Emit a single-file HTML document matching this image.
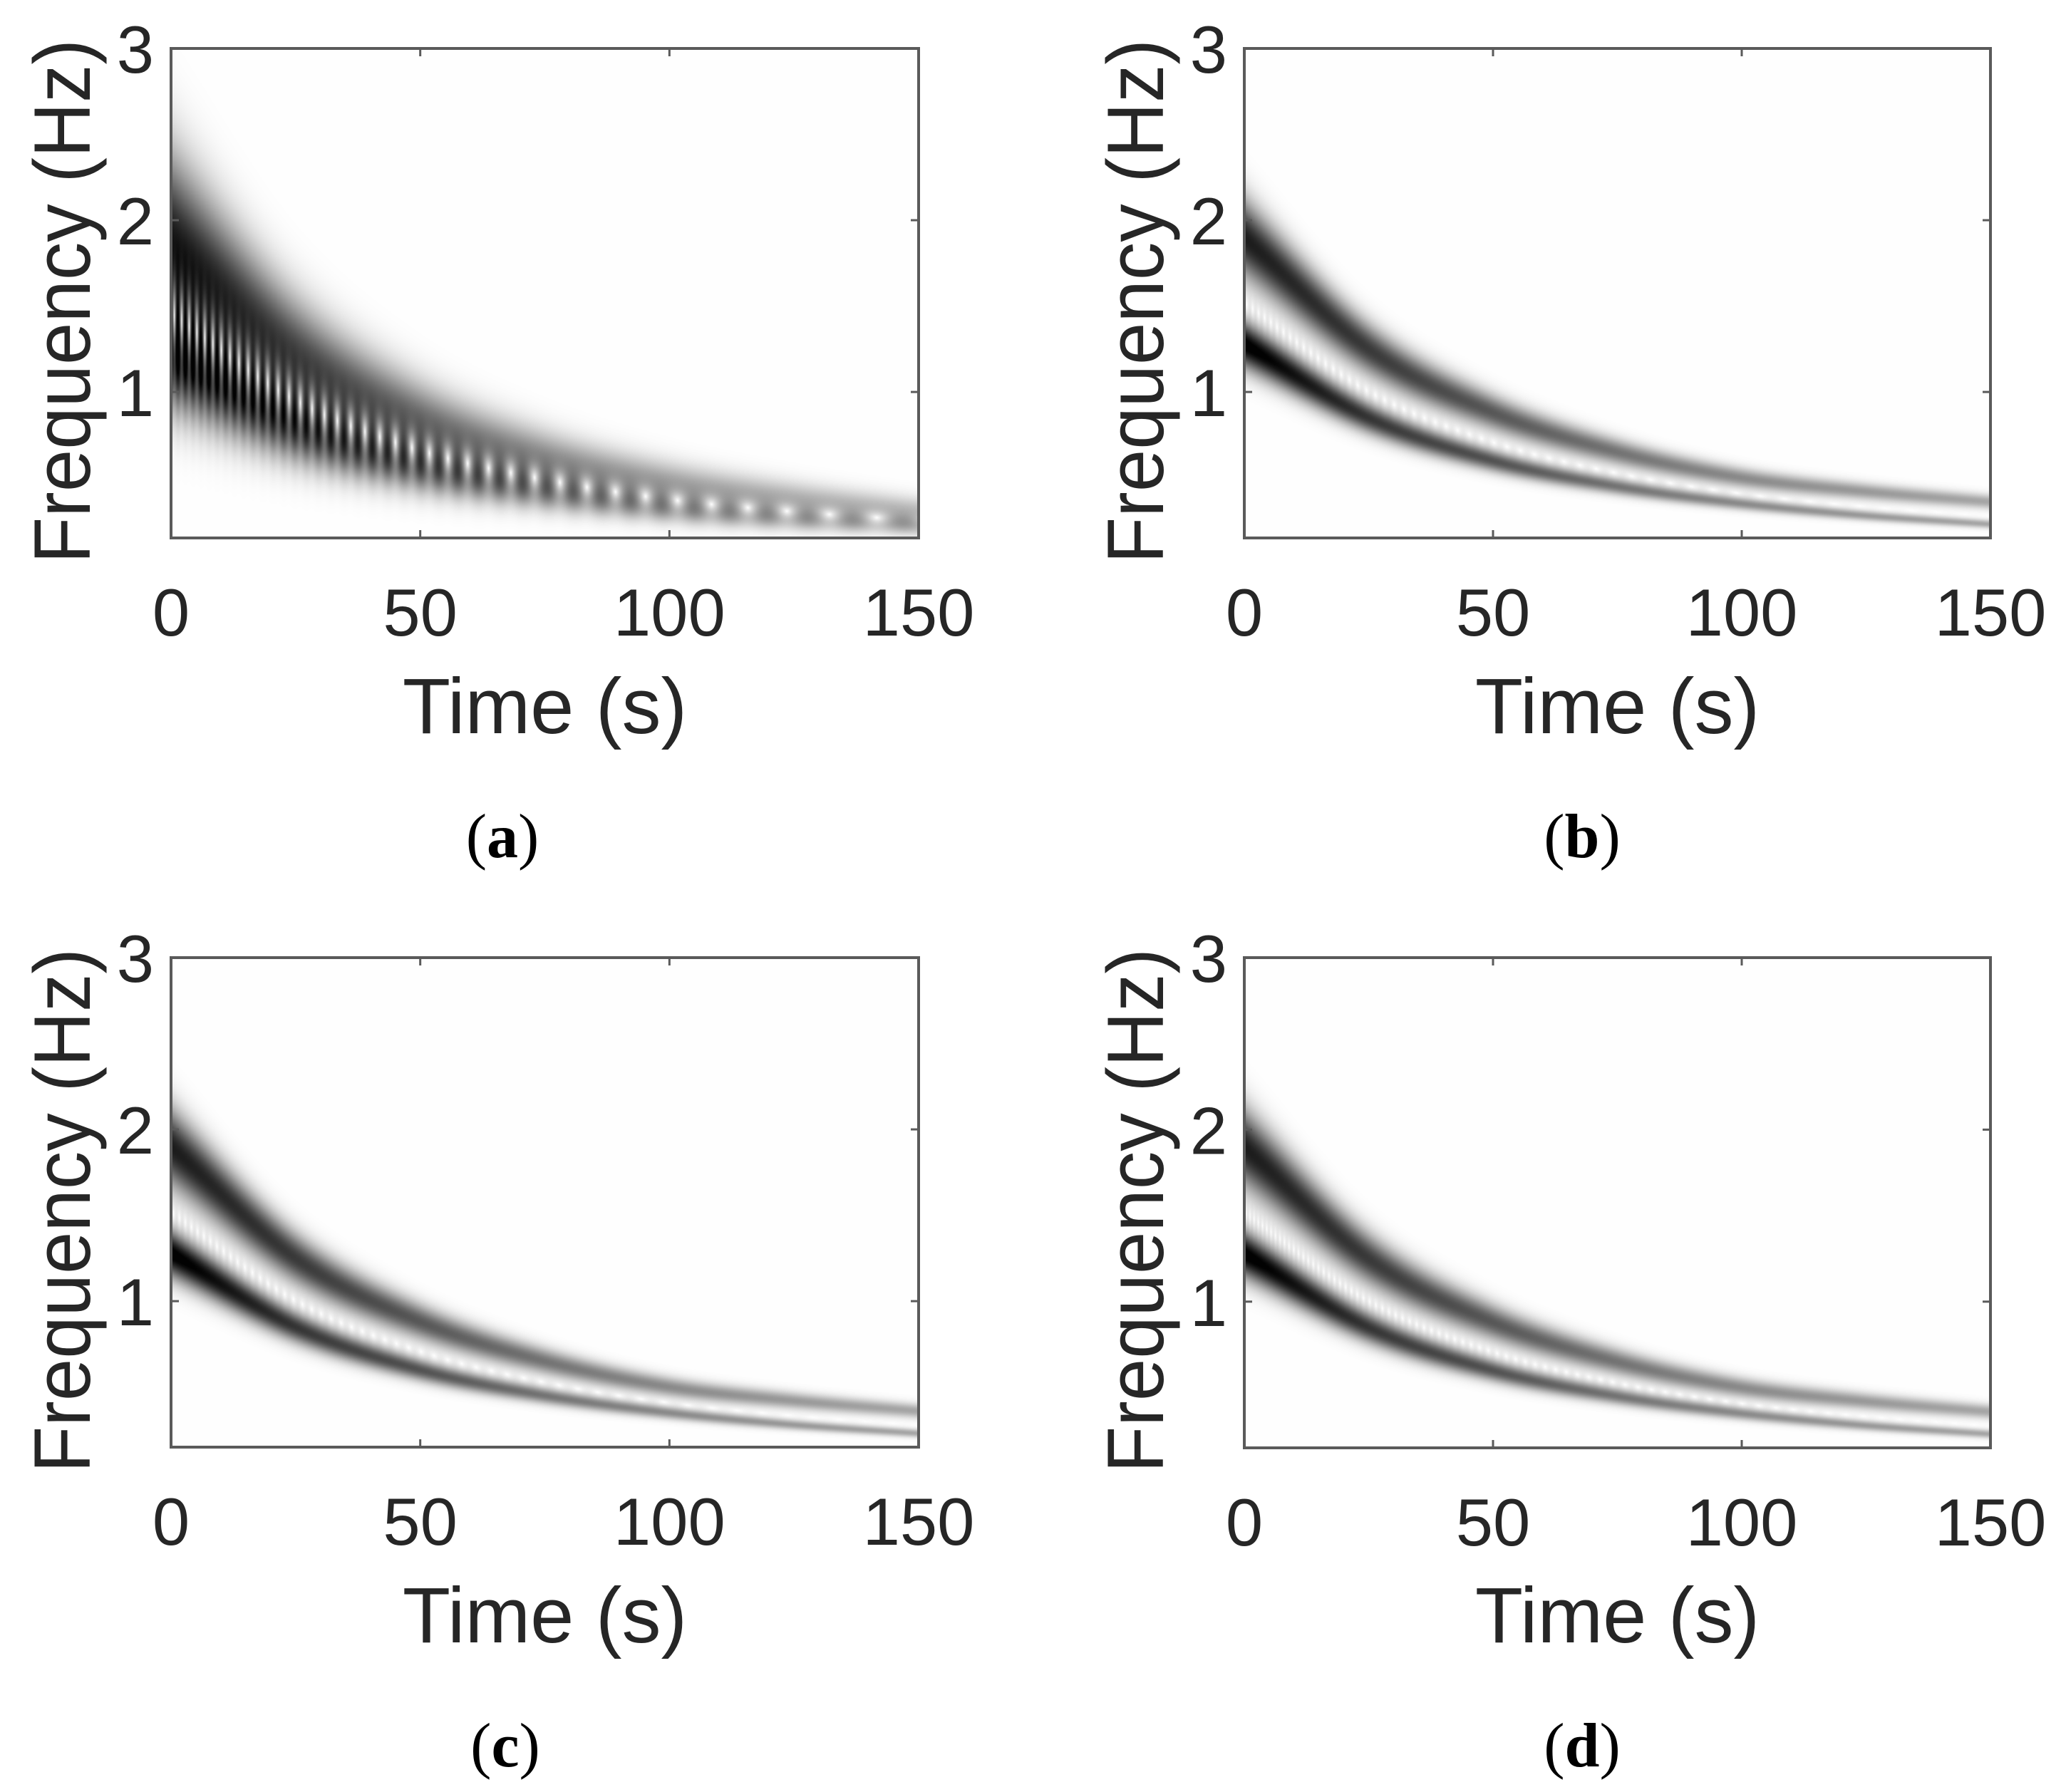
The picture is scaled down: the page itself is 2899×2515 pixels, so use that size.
<!DOCTYPE html>
<html><head><meta charset="utf-8">
<style>
html,body{margin:0;padding:0;background:#fff;}
#root{position:relative;width:2899px;height:2515px;overflow:hidden;background:#fff;}
canvas{position:absolute;}
svg{position:absolute;left:0;top:0;}
</style></head>
<body>
<div id="root">
<canvas id="ca" width="1049" height="687" style="left:240px;top:68px"></canvas>
<canvas id="cb" width="1047" height="687" style="left:1746px;top:68px"></canvas>
<canvas id="cc" width="1049" height="687" style="left:240px;top:1344px"></canvas>
<canvas id="cd" width="1047" height="688" style="left:1746px;top:1344px"></canvas>
<svg id="ov" width="2899" height="2515"></svg>
</div>
<script>
// ---- data ----
const times = [0, 25, 50, 75, 100, 125, 150];
const xTicks = [0, 50, 100, 150];
const yTicks = [1, 2, 3];
const captions = ["(a)", "(b)", "(c)", "(d)"];
const lowerA = [1.22, 0.8, 0.56, 0.42, 0.32, 0.26, 0.22];
const upperA = [1.85, 1.2, 0.82, 0.6, 0.46, 0.37, 0.3];
const ampA = [1.0, 0.82, 0.66, 0.52, 0.42, 0.35, 0.3];
const lowerB = [1.28, 0.85, 0.6, 0.45, 0.35, 0.28, 0.23];
const upperB = [1.9, 1.25, 0.88, 0.65, 0.5, 0.42, 0.36];
const ampLowB = [1.05, 0.8, 0.68, 0.55, 0.46, 0.4, 0.35];
const ampUpB = [0.9, 0.78, 0.66, 0.55, 0.46, 0.4, 0.35];
const fMin = 0.15, fMax = 3, tMin = 0, tMax = 150;

// monotone cubic interpolation through the data
function interp(arr, t){
  const n=times.length, d=[], m=[];
  for(let i=0;i<n-1;i++) d.push((arr[i+1]-arr[i])/(times[i+1]-times[i]));
  m.push(d[0]);
  for(let i=1;i<n-1;i++) m.push(d[i-1]*d[i]<=0?0:(d[i-1]+d[i])/2);
  m.push(d[n-2]);
  let i=0; while(i<n-2 && t>times[i+1]) i++;
  const h=times[i+1]-times[i], u=Math.min(1,Math.max(0,(t-times[i])/h));
  const h00=2*u*u*u-3*u*u+1, h10=u*u*u-2*u*u+u, h01=-2*u*u*u+3*u*u, h11=u*u*u-u*u;
  return h00*arr[i]+h10*h*m[i]+h01*arr[i+1]+h11*h*m[i+1];
}
function render(id, low, up, aLow, aUp, k, phaseK, gain){
  const c=document.getElementById(id), ctx=c.getContext('2d');
  const W=c.width,H=c.height, img=ctx.createImageData(W,H), d=img.data;
  let phase=0;
  for(let x=0;x<W;x++){
    const t=tMin+(x+0.5)/W*(tMax-tMin);
    const fl=interp(low,t), fu=interp(up,t), al=interp(aLow,t), au=interp(aUp,t);
    phase+=2*Math.PI*phaseK*(fu-fl)*(tMax-tMin)/W;
    const sl=k*fl, su=k*fu*1.1, cp=Math.cos(phase), sp=Math.sin(phase);
    for(let y=0;y<H;y++){
      const f=fMax-(y+0.5)/H*(fMax-fMin);
      const g1=al*Math.exp(-(f-fl)*(f-fl)/(2*sl*sl));
      const g2=au*Math.exp(-(f-fu)*(f-fu)/(2*su*su));
      const re=g1+g2*cp, im=g2*sp;
      let v=Math.sqrt(re*re+im*im)*gain; if(v>1)v=1;
      const g=Math.round(255*(1-v)*0.99+2);
      const o=(y*W+x)*4; d[o]=d[o+1]=d[o+2]=Math.min(255,g); d[o+3]=255;
    }
  }
  ctx.putImageData(img,0,0);
}
render('ca', lowerA, upperA, ampA, ampA, 0.18, 1.1, 0.95);
render('cb', lowerB, upperB, ampLowB, ampUpB, 0.075, 1.4, 1.0);
render('cc', lowerB, upperB, ampLowB, ampUpB, 0.075, 1.4, 1.0);
render('cd', lowerB, upperB, ampLowB, ampUpB, 0.075, 2.0, 1.0);

// ---- axes ----
const NS='http://www.w3.org/2000/svg', ov=document.getElementById('ov');
function el(tag, attrs, parent){const e=document.createElementNS(NS,tag);for(const k in attrs)e.setAttribute(k,attrs[k]);(parent||ov).appendChild(e);return e;}
const panels=[[240,68,1049,687,705],[1746,68,1047,687,2220],[240,1344,1049,687,709],[1746,1344,1047,688,2220]];
panels.forEach((p,i)=>{
  const [L,T,W,H,cx]=p;
  const g=el('g',{});
  
  
  const xs=v=>L+(v-tMin)/(tMax-tMin)*W, ys=v=>T+(fMax-v)/(fMax-fMin)*H;
  const box=el('rect',{x:L,y:T,width:W,height:H,fill:'none',stroke:'#5a5a5a','stroke-width':4},g);
  
  
  xTicks.forEach(v=>{
    const x=xs(v);
    el('line',{x1:x,y1:T+H,x2:x,y2:T+H-11,stroke:'#5a5a5a','stroke-width':3},g);
    el('line',{x1:x,y1:T,x2:x,y2:T+11,stroke:'#5a5a5a','stroke-width':3},g);
    const tx=el('text',{x:x,y:T+H+137,'text-anchor':'middle','font-family':'Liberation Sans, sans-serif','font-size':94,fill:'#262626'},g);
    tx.textContent=v;
    
    
  });
  yTicks.forEach(v=>{
    const y=ys(v);
    el('line',{x1:L,y1:y,x2:L+11,y2:y,stroke:'#5a5a5a','stroke-width':3},g);
    el('line',{x1:L+W,y1:y,x2:L+W-11,y2:y,stroke:'#5a5a5a','stroke-width':3},g);
    const ty=el('text',{x:L-24,y:y+34,'text-anchor':'end','font-family':'Liberation Sans, sans-serif','font-size':94,fill:'#262626'},g);
    ty.textContent=v;
    
    
  });
  const xl=el('text',{x:L+W/2,y:T+961,'text-anchor':'middle','font-family':'Liberation Sans, sans-serif','font-size':110,fill:'#262626'},g);
  xl.textContent='Time (s)';
  
  
  const yl=el('text',{x:0,y:0,'text-anchor':'middle','font-family':'Liberation Sans, sans-serif','font-size':112,fill:'#262626',textLength:736,lengthAdjust:'spacingAndGlyphs',transform:`translate(${L-114},${T+355}) rotate(-90)`},g);
  yl.textContent='Frequency (Hz)';
  
  
  const cap=el('text',{x:cx,y:T+1135,'text-anchor':'middle','font-family':'Liberation Serif, serif','font-size':88,fill:'#000'},g);
  cap.innerHTML='(<tspan font-weight="bold">'+'abcd'[i]+'</tspan>)';
  
  
});
</script>
</body></html>
